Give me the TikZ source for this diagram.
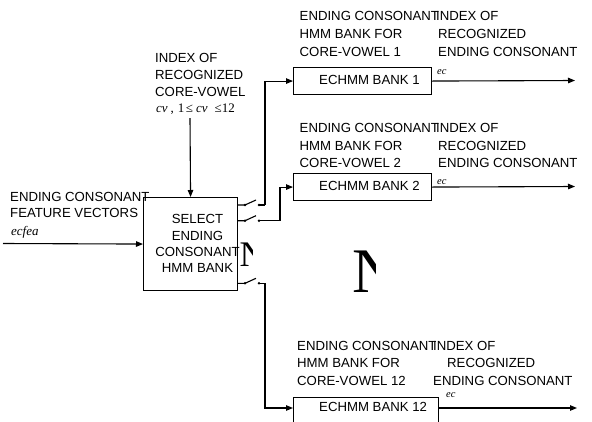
\documentclass[tikz,border=0pt]{standalone}
\usepackage{fontspec}
\setmainfont{Liberation Sans}
\newfontfamily\serif{Liberation Serif}
\usetikzlibrary{arrows.meta}
\begin{document}
\begin{tikzpicture}[x=1pt,y=-1pt,
  wire/.style={line width=1.1pt},
  arr/.style={wire,-{Triangle[length=7pt,width=5.5pt]}},
  lbl/.style={anchor=base west,inner sep=0pt,font=\fontsize{13.2}{16}\selectfont},
  ctr/.style={lbl,anchor=base},
  blk/.style={draw,line width=1.1pt,inner sep=0pt,anchor=north west},
  var/.style={anchor=base west,inner sep=0pt,font=\serif\itshape\fontsize{13}{16}\selectfont},
  sub/.style={anchor=base west,inner sep=0pt,font=\serif\itshape\fontsize{10.5}{12}\selectfont},
  glyph/.style={anchor=base west,inner sep=0pt}]

\useasboundingbox (0,0) rectangle (592,421);
\clip (0,0) rectangle (592,421);

% selector block
\node[blk,minimum width=94pt,minimum height=93pt] (sel) at (143,197) {};
\node[ctr] (selA) at (197.5,223.3) {SELECT};
\node[ctr] (selB) at (197.5,240) {ENDING};
\node[ctr] (selC) at (197.5,256.3) {CONSONANT};
\node[ctr] (selD) at (197.5,272.7) {HMM BANK};

% core-vowel index input
\node[lbl] (cvA) at (155,62.7) {INDEX OF};
\node[lbl] (cvB) at (155,79.3) {RECOGNIZED};
\node[lbl] (cvC) at (155,96) {CORE-VOWEL};
\node[var] (cvD) at (156,112.5) {cv\hspace{3pt}\upshape,\hspace{4pt}1\hspace{1.5pt}≤\hspace{3pt}\itshape cv\hspace{7pt}\upshape≤12};
\coordinate (cvin) at (190,118);
\draw[arr] (cvin) -- (sel.north);

% feature vector input
\node[lbl] (fvA) at (10,201) {ENDING CONSONANT};
\node[lbl] (fvB) at (10,217.3) {FEATURE VECTORS};
\node[var] (fvC) at (11,235) {ecfea};
\coordinate (fin) at (3,243.5);
\draw[arr] (fin) -- (sel.west);

% HMM banks
\node[blk,minimum width=138pt,minimum height=27pt] (b1) at (293,67) {};
\node[blk,minimum width=138pt,minimum height=27pt] (b2) at (293,173) {};
\node[blk,minimum width=145pt,minimum height=30pt] (b12) at (293,397) {};
\node[lbl] (b1t) at (319,84) {ECHMM BANK 1};
\node[lbl] (b2t) at (319,190.5) {ECHMM BANK 2};
\node[lbl] (b12t) at (319,411.7) {ECHMM BANK 12};

% bank captions
\node[lbl] (h1A) at (299.5,20.7) {ENDING CONSONANT};
\node[lbl] (h1B) at (299.5,38.4) {HMM BANK FOR};
\node[lbl] (h1C) at (299.5,56.1) {CORE-VOWEL 1};
\node[lbl] (r1A) at (436,20.7) {INDEX OF};
\node[lbl] (r1B) at (438,38.4) {RECOGNIZED};
\node[lbl] (r1C) at (438,56.1) {ENDING CONSONANT};

\node[lbl] (h2A) at (299.5,132.3) {ENDING CONSONANT};
\node[lbl] (h2B) at (299.5,150) {HMM BANK FOR};
\node[lbl] (h2C) at (299.5,167.7) {CORE-VOWEL 2};
\node[lbl] (r2A) at (436,132.3) {INDEX OF};
\node[lbl] (r2B) at (438,150) {RECOGNIZED};
\node[lbl] (r2C) at (438,167.7) {ENDING CONSONANT};

\node[lbl] (h12A) at (297,350) {ENDING CONSONANT};
\node[lbl] (h12B) at (297,367.8) {HMM BANK FOR};
\node[lbl] (h12C) at (297,385.6) {CORE-VOWEL 12};
\node[lbl] (r12A) at (433,350) {INDEX OF};
\node[lbl] (r12B) at (447,367.8) {RECOGNIZED};
\node[lbl] (r12C) at (433,385.6) {ENDING CONSONANT};

% switches on the selector outputs
\foreach \n/\y/\x in {1/205/265, 2/220.7/280, 3/283.3/265} {
  \coordinate (s\n-a) at (sel.east |- 0,\y);
  \coordinate (s\n-b) at (245,\y);
  \coordinate (s\n-c) at (256,\y-5);
  \coordinate (s\n-d) at (259,\y);
  \coordinate (s\n-e) at (\x,\y);
  \draw[wire] (s\n-a) -- (s\n-b) -- (s\n-c);
  \draw[wire] (s\n-d) -- (s\n-e);
  \fill (s\n-b) circle (1.4);
  \fill (s\n-d) circle (1.4);
}

% routes to the banks
\coordinate (i12) at (293,408);
\draw[arr] (s1-e) |- (b1.west);
\draw[arr] (s2-e) |- (b2.west);
\draw[arr] (s3-e) |- (i12);

% bank outputs
\coordinate (o1) at (575,80.5);
\coordinate (o2) at (575,186.5);
\coordinate (o12) at (577,408);
\draw[arr] (b1.east) -- (o1);
\draw[arr] (b2.east) -- (o2);
\draw[arr] (b12.east |- i12) -- (o12);
\node[sub] (ec1) at (437,74.5) {ec};
\node[sub] (ec2) at (437,184) {ec};
\node[sub] (ec12) at (446,397.5) {ec};

% ellipsis marks
\begin{scope}
  \clip (238,230) rectangle (252,275);
  \node[glyph,font=\serif\fontsize{36}{36}\selectfont] (nA) at (239.5,266) {N};
\end{scope}
\begin{scope}
  \clip (340,240) rectangle (375,300);
  \node[glyph,font=\serif\fontsize{63.5}{64}\selectfont] (nB) at (352.5,292) {N};
\end{scope}
\end{tikzpicture}
\end{document}
